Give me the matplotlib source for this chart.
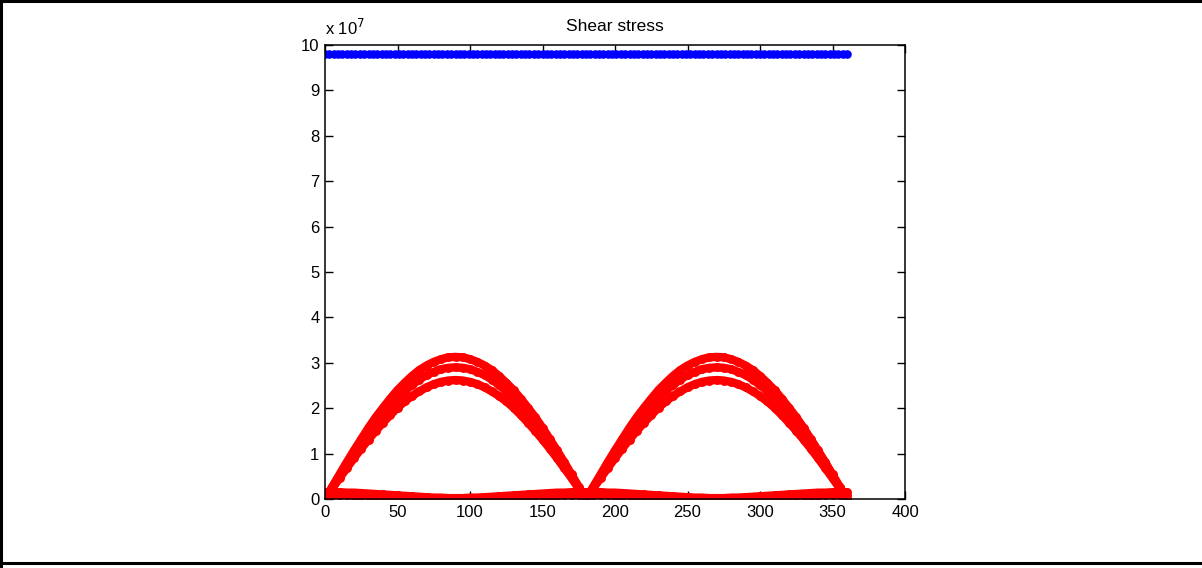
import numpy as np
import matplotlib
matplotlib.use("Agg")
import matplotlib.pyplot as plt
from matplotlib.lines import Line2D

plt.rcParams['font.family'] = ['Liberation Sans', 'DejaVu Sans']

# angle samples (deg) for a half arch, 0..90 step 5
half_angle = [0, 5, 10, 15, 20, 25, 30, 35, 40, 45, 50, 55, 60, 65, 70, 75, 80, 85, 90]
# arch profiles (x 1e7), rising half (mirrored after peak)
arch_high = [0, 0.27, 0.54, 0.81, 1.07, 1.32, 1.57, 1.80, 2.01, 2.21, 2.40, 2.56, 2.71, 2.84, 2.94, 3.02, 3.08, 3.12, 3.13]
arch_mid  = [0, 0.25, 0.50, 0.75, 0.99, 1.23, 1.45, 1.66, 1.86, 2.05, 2.22, 2.38, 2.51, 2.63, 2.73, 2.80, 2.86, 2.89, 2.90]
arch_low  = [0, 0.23, 0.46, 0.68, 0.90, 1.11, 1.31, 1.50, 1.68, 1.85, 2.01, 2.15, 2.27, 2.37, 2.46, 2.53, 2.58, 2.61, 2.62]
# low curves (x 1e7), falling half from 0 to 90 deg
base_a = [0.15, 0.15, 0.15, 0.14, 0.14, 0.13, 0.12, 0.11, 0.10, 0.09, 0.08, 0.07, 0.06, 0.05, 0.04, 0.03, 0.03, 0.02, 0.02]
base_b = [0.08, 0.08, 0.08, 0.08, 0.07, 0.07, 0.07, 0.06, 0.06, 0.05, 0.05, 0.04, 0.04, 0.03, 0.03, 0.02, 0.02, 0.01, 0.01]
# blue series level (x 1e7)
blue_level = 9.80
scale = 1e7

def full_cycle(half):
    h = list(half)
    q = h + h[-2::-1]          # 0..180
    return q + q[1:]           # 0..360

angles = np.array(list(half_angle) + [180 - a for a in half_angle[-2::-1]])
angles = np.concatenate([angles, angles[1:] + 180])

fig = plt.figure(figsize=(12.02, 5.68), dpi=100)
ax = fig.add_axes([325/1202, 1 - 499/568, 580/1202, 454/568])

blue_x = np.arange(0, 361, 3)
ax.plot(blue_x, np.full(len(blue_x), blue_level * scale), color='#0000ff',
        linewidth=5, solid_capstyle='round',
        marker='o', markersize=6.2, markeredgewidth=0)

for curve in (arch_high, arch_mid, arch_low, base_a, base_b):
    y = np.array(full_cycle(curve)) * scale
    ax.plot(angles, y, color='#ff0000', linewidth=6, solid_capstyle='round',
            solid_joinstyle='round', marker='o', markersize=6.4, markeredgewidth=0)

ax.set_xlim(0, 400)
ax.set_ylim(0, 10e7)
ax.set_xticks(np.arange(0, 401, 50))
ax.set_yticks(np.arange(0, 11, 1) * scale)
ax.set_yticklabels([str(i) for i in range(11)])
ax.tick_params(direction='in', top=True, right=True, length=5.5, width=1,
               labelsize=12, pad=4, colors='black')
for s in ax.spines.values():
    s.set_linewidth(1.1)
ax.set_title('Shear stress', fontsize=12.5, pad=10)
ax.text(0.0, 1.015, r'x 10$^{7}$', transform=ax.transAxes, fontsize=12,
        ha='left', va='bottom')

# figure frame
fig.add_artist(Line2D([0, 1], [1 - 1/568, 1 - 1/568], transform=fig.transFigure, color='black', linewidth=2.2))
fig.add_artist(Line2D([1/1202, 1/1202], [0, 1], transform=fig.transFigure, color='black', linewidth=2.2))
fig.add_artist(Line2D([0, 1], [1 - 563/568, 1 - 563/568], transform=fig.transFigure, color='black', linewidth=2.2))

fig.savefig('out.png', dpi=100, facecolor='white')
